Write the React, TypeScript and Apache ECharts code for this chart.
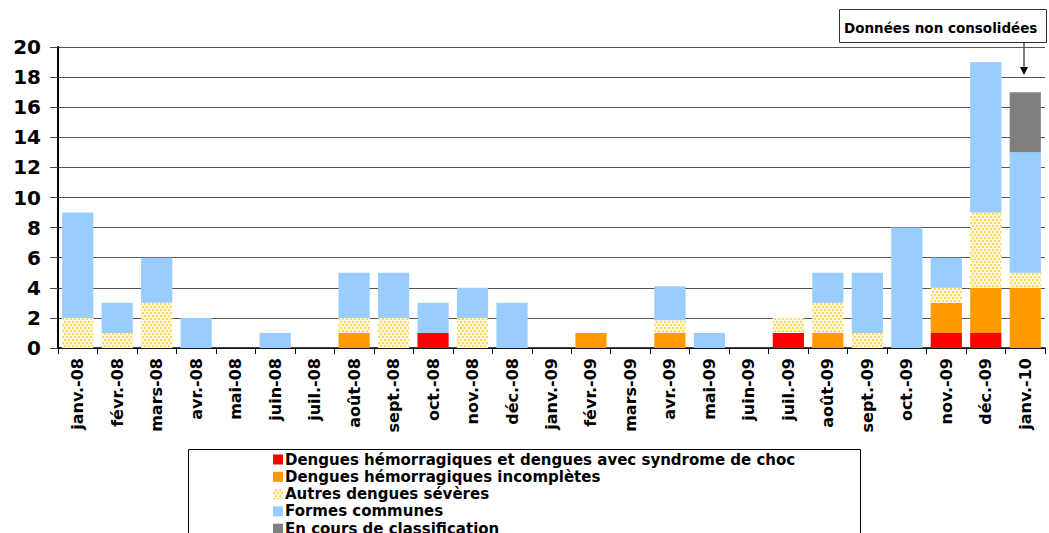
import React, { useEffect, useRef } from "react";
import * as echarts from "echarts";

const categories = [
  "janv.-08", "févr.-08", "mars-08", "avr.-08", "mai-08", "juin-08", "juil.-08", "août-08",
  "sept.-08", "oct.-08", "nov.-08", "déc.-08", "janv.-09", "févr.-09", "mars-09", "avr.-09",
  "mai-09", "juin-09", "juil.-09", "août-09", "sept.-09", "oct.-09", "nov.-09", "déc.-09", "janv.-10",
];
const dhDsc = [0, 0, 0, 0, 0, 0, 0, 0, 0, 1, 0, 0, 0, 0, 0, 0, 0, 0, 1, 0, 0, 0, 1, 1, 0];
const dhIncompletes = [0, 0, 0, 0, 0, 0, 0, 1, 0, 0, 0, 0, 0, 1, 0, 1, 0, 0, 0, 1, 0, 0, 2, 3, 4];
const autresSeveres = [2, 1, 3, 0, 0, 0, 0, 1, 2, 0, 2, 0, 0, 0, 0, 0.85, 0, 0, 1, 2, 1, 0, 1, 5, 1];
const formesCommunes = [7, 2, 3, 2, 0, 1, 0, 3, 3, 2, 2, 3, 0, 0, 0, 2.25, 1, 0, 0, 2, 4, 8, 2, 10, 8];
const enCours = [0, 0, 0, 0, 0, 0, 0, 0, 0, 0, 0, 0, 0, 0, 0, 0, 0, 0, 0, 0, 0, 0, 0, 0, 4];
const yTicks = { min: 0, max: 20, interval: 2 };

const FONT = "'DejaVu Sans', Verdana, sans-serif";

export default function App() {
  const ref = useRef<HTMLDivElement>(null);
  useEffect(() => {
    const chart = echarts.init(ref.current!, null, { renderer: "svg" });
    const mk = (name: string, data: number[], itemStyle: any) => ({
      name,
      type: "bar",
      stack: "total",
      data: data.map((v) => (v === 0 ? "-" : v)),
      barWidth: "79%",
      itemStyle,
      emphasis: { disabled: true },
    });
    chart.setOption({
      animation: false,
      textStyle: { fontFamily: FONT },
      grid: { left: 58, right: 4, top: 47, bottom: 185, containLabel: false },
      xAxis: {
        type: "category",
        data: categories,
        axisLine: { show: true, lineStyle: { color: "#000", width: 1.5 } },
        axisTick: { show: true, length: 6, lineStyle: { color: "#000" }, alignWithLabel: false },
        axisLabel: {
          rotate: 90,
          interval: 0,
          fontSize: 16,
          fontWeight: "bold",
          color: "#000",
          fontFamily: FONT,
          margin: 10,
        },
      },
      yAxis: {
        type: "value",
        min: yTicks.min,
        max: yTicks.max,
        interval: yTicks.interval,
        axisLine: { show: true, lineStyle: { color: "#000", width: 2 } },
        axisTick: { show: true, length: 8, lineStyle: { color: "#444" } },
        splitLine: { show: true, lineStyle: { color: "#555", width: 1.2 } },
        axisLabel: {
          fontSize: 20,
          fontWeight: "bold",
          color: "#000",
          fontFamily: FONT,
          margin: 17,
        },
      },
      legend: {
        orient: "vertical",
        left: 268,
        top: 447,
        height: 200,
        itemWidth: 10,
        itemHeight: 10,
        itemGap: 2.3,
        icon: "rect",
        textStyle: {
          fontSize: 15,
          fontWeight: "bold",
          color: "#000",
          fontFamily: FONT,
          lineHeight: 15,
          padding: [0, 0, 0, -3],
        },
        data: [
          "Dengues hémorragiques et dengues avec syndrome de choc",
          "Dengues hémorragiques incomplètes",
          "Autres dengues sévères",
          "Formes communes",
          "En cours de classification",
        ],
      },
      graphic: [
        {
          type: "rect",
          left: 186,
          top: 447,
          shape: { width: 672, height: 100 },
          style: { fill: "none", stroke: "#000", lineWidth: 1 },
          silent: true,
        },
        {
          type: "rect",
          left: 839,
          top: 9,
          shape: { width: 207, height: 33 },
          style: { fill: "#fff", stroke: "#333", lineWidth: 1 },
          silent: true,
        },
        {
          type: "text",
          left: 844,
          top: 21,
          style: {
            text: "Données non consolidées",
            font: "bold 13.5px 'DejaVu Sans', Verdana, sans-serif",
            fill: "#000",
          },
          silent: true,
        },
        {
          type: "line",
          shape: { x1: 1024, y1: 42, x2: 1024, y2: 68 },
          style: { stroke: "#000", lineWidth: 1 },
          silent: true,
        },
        {
          type: "polygon",
          shape: { points: [[1020, 67], [1028, 67], [1024, 75]] },
          style: { fill: "#000" },
          silent: true,
        },
      ],
      series: [
        mk("Dengues hémorragiques et dengues avec syndrome de choc", dhDsc, { color: "#FF0000" }),
        mk("Dengues hémorragiques incomplètes", dhIncompletes, { color: "#FF9900" }),
        mk("Autres dengues sévères", autresSeveres, {
          color: "#FFF7DC",
          decal: {
            symbol: "rect",
            color: "#FFD75A",
            symbolSize: 1,
            dashArrayX: [[2, 2], [0, 2, 2, 0]],
            dashArrayY: [2, 1],
            rotation: 0,
            backgroundColor: "#FFFBEE",
          },
        }),
        mk("Formes communes", formesCommunes, { color: "#99CCFF" }),
        mk("En cours de classification", enCours, { color: "#808080" }),
      ],
    });
    return () => chart.dispose();
  }, []);
  return <div ref={ref} style={{ width: 1049, height: 533, position: "absolute", left: 0, top: 0 }} />;
}
